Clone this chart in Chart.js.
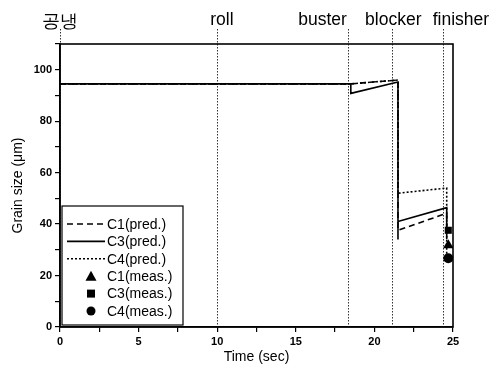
<!DOCTYPE html>
<html>
<head>
<meta charset="utf-8">
<script src="https://cdn.jsdelivr.net/npm/chart.js@4.4.0/dist/chart.umd.min.js"></script>
<style>
body{margin:0;background:#fff}
</style>
</head>
<body>
<canvas id="grain" width="494" height="372"></canvas>
<script>
// predicted grain size (um) along the line, time in sec
var c1PredTime = [0, 18.5, 21.5, 21.5, 24.6, 24.6];
var c1PredSize = [94.5, 94.5, 96, 37.6, 44.2, 31.8];
var c3PredTime = [0, 18.5, 18.5, 21.5, 21.5, 21.5, 24.6, 24.6];
var c3PredSize = [94.5, 94.5, 90.8, 95.2, 34, 41, 46.4, 37.6];
var c4PredTime = [0, 18.5, 21.5, 21.5, 24.6, 24.6];
var c4PredSize = [94.5, 94.5, 96, 52, 54, 26.7];

// measured at the end
var measTime = [24.7];
var c1Meas = [31.8];
var c3Meas = [37.6];
var c4Meas = [26.7];

// process stages on top
var stageNames = ['공냉', 'roll', 'buster', 'blocker', 'finisher'];
var stageTimes = [0, 10, 18.3, 21.1, 24.35];
var stageLabelAt = [0, 10.3, 16.7, 21.2, 25.5];

var xTicks = [0, 5, 10, 15, 20, 25];
var yTicks = [0, 20, 40, 60, 80, 100];

var FONT = "'Liberation Sans', Arial, sans-serif";

function pts(xs, ys){
    var out = [];
    for(var i = 0; i < xs.length; i++) out.push({x: xs[i], y: ys[i]});
    return out;
}

function lineSet(label, xs, ys, dash){
    return {
        label: label, data: pts(xs, ys), showLine: true,
        borderColor: '#000', borderWidth: 1.6, borderDash: dash,
        pointRadius: 0, fill: false, tension: 0
    };
}

function measSet(label, ys, style){
    return {
        label: label, data: pts(measTime, ys), showLine: false,
        pointStyle: style, pointRadius: style == 'triangle' ? 6 : 5,
        backgroundColor: '#000', borderColor: '#000', borderWidth: 0
    };
}

// stage guides, labels and frame
var stagePlugin = {
    id: 'stages',
    beforeDatasetsDraw: function(chart){
        var ctx = chart.ctx, a = chart.chartArea, xs = chart.scales.x;
        ctx.save();
        ctx.strokeStyle = '#333';
        ctx.lineWidth = 1;
        ctx.setLineDash([1.5, 1.5]);
        for(var i = 0; i < stageTimes.length; i++){
            var px = Math.round(xs.getPixelForValue(stageTimes[i])) + 0.5;
            ctx.beginPath();
            ctx.moveTo(px, 29);
            ctx.lineTo(px, a.bottom);
            ctx.stroke();
        }
        ctx.setLineDash([]);
        ctx.fillStyle = '#000';
        ctx.font = '17.5px ' + FONT;
        ctx.textAlign = 'center';
        ctx.textBaseline = 'alphabetic';
        for(var i = 0; i < stageNames.length; i++){
            ctx.fillText(stageNames[i], xs.getPixelForValue(stageLabelAt[i]), i == 0 ? 27 : 25);
        }
        ctx.lineWidth = 1.6;
        ctx.strokeStyle = '#000';
        ctx.strokeRect(a.left, a.top, a.right - a.left, a.bottom - a.top);
        ctx.restore();
    },
    afterDatasetsDraw: function(chart){
        // boxed legend in the lower-left corner
        var ctx = chart.ctx, a = chart.chartArea;
        var bx = a.left + 2, by = a.bottom - 121, bw = 121, bh = 119;
        ctx.save();
        ctx.fillStyle = '#fff';
        ctx.fillRect(bx, by, bw, bh);
        ctx.strokeStyle = '#000';
        ctx.lineWidth = 1.2;
        ctx.strokeRect(bx, by, bw, bh);
        ctx.font = '14px ' + FONT;
        ctx.textBaseline = 'middle';
        ctx.textAlign = 'left';
        ctx.fillStyle = '#000';
        var ds = chart.data.datasets;
        for(var i = 0; i < ds.length; i++){
            var y = by + 18 + i * 17.4;
            if(ds[i].showLine === false){
                var cx = bx + 29, r = 4.5;
                ctx.beginPath();
                if(ds[i].pointStyle == 'triangle'){
                    ctx.moveTo(cx, y - r - 1);
                    ctx.lineTo(cx + r + 1, y + r);
                    ctx.lineTo(cx - r - 1, y + r);
                    ctx.closePath();
                } else if(ds[i].pointStyle == 'rect'){
                    ctx.rect(cx - r + 0.5, y - r + 0.5, 2 * r - 1, 2 * r - 1);
                } else {
                    ctx.arc(cx, y, r, 0, Math.PI * 2);
                }
                ctx.fill();
            } else {
                ctx.lineWidth = 1.6;
                ctx.setLineDash(ds[i].borderDash || []);
                ctx.beginPath();
                ctx.moveTo(bx + 5, y);
                ctx.lineTo(bx + 43, y);
                ctx.stroke();
                ctx.setLineDash([]);
            }
            ctx.fillText(ds[i].label, bx + 45, y + 1);
        }
        ctx.restore();
    }
};

var chart = new Chart(document.getElementById('grain'), {
    type: 'scatter',
    data: {
        datasets: [
            lineSet('C1(pred.)', c1PredTime, c1PredSize, [6, 4]),
            lineSet('C3(pred.)', c3PredTime, c3PredSize, []),
            lineSet('C4(pred.)', c4PredTime, c4PredSize, [2, 2]),
            measSet('C1(meas.)', c1Meas, 'triangle'),
            measSet('C3(meas.)', c3Meas, 'rect'),
            measSet('C4(meas.)', c4Meas, 'circle')
        ]
    },
    options: {
        responsive: false,
        animation: false,
        devicePixelRatio: 1,
        layout: {padding: {left: 0, top: 44, right: 41, bottom: 0}},
        plugins: {legend: {display: false}, tooltip: {enabled: false}},
        scales: {
            x: {
                type: 'linear', min: 0, max: 25,
                afterFit: function(s){ s.height = 45; },
                grid: {drawOnChartArea: false, tickLength: 5, color: '#000', lineWidth: 1.2},
                border: {display: true, color: '#000', width: 1.6},
                ticks: {
                    stepSize: 2.5, padding: 3, color: '#000', maxRotation: 0, autoSkip: false,
                    font: {family: FONT, size: 11, weight: 'bold'},
                    callback: function(v){ return xTicks.indexOf(v) >= 0 ? v : ''; }
                },
                title: {display: true, text: 'Time (sec)', color: '#000',
                    font: {family: FONT, size: 14}, padding: {top: 0, bottom: 6}}
            },
            y: {
                min: 0, max: 110,
                afterFit: function(s){ s.width = 60; },
                grid: {drawOnChartArea: false, tickLength: 5, color: '#000', lineWidth: 1.2},
                border: {display: true, color: '#000', width: 1.6},
                ticks: {
                    stepSize: 10, padding: 3, color: '#000', autoSkip: false,
                    font: {family: FONT, size: 11, weight: 'bold'},
                    callback: function(v){ return yTicks.indexOf(v) >= 0 ? v : ''; }
                },
                title: {display: true, text: 'Grain size (μm)', color: '#000',
                    font: {family: FONT, size: 14}, padding: {top: 10, bottom: 0}}
            }
        }
    },
    plugins: [stagePlugin]
});
</script>
</body>
</html>
